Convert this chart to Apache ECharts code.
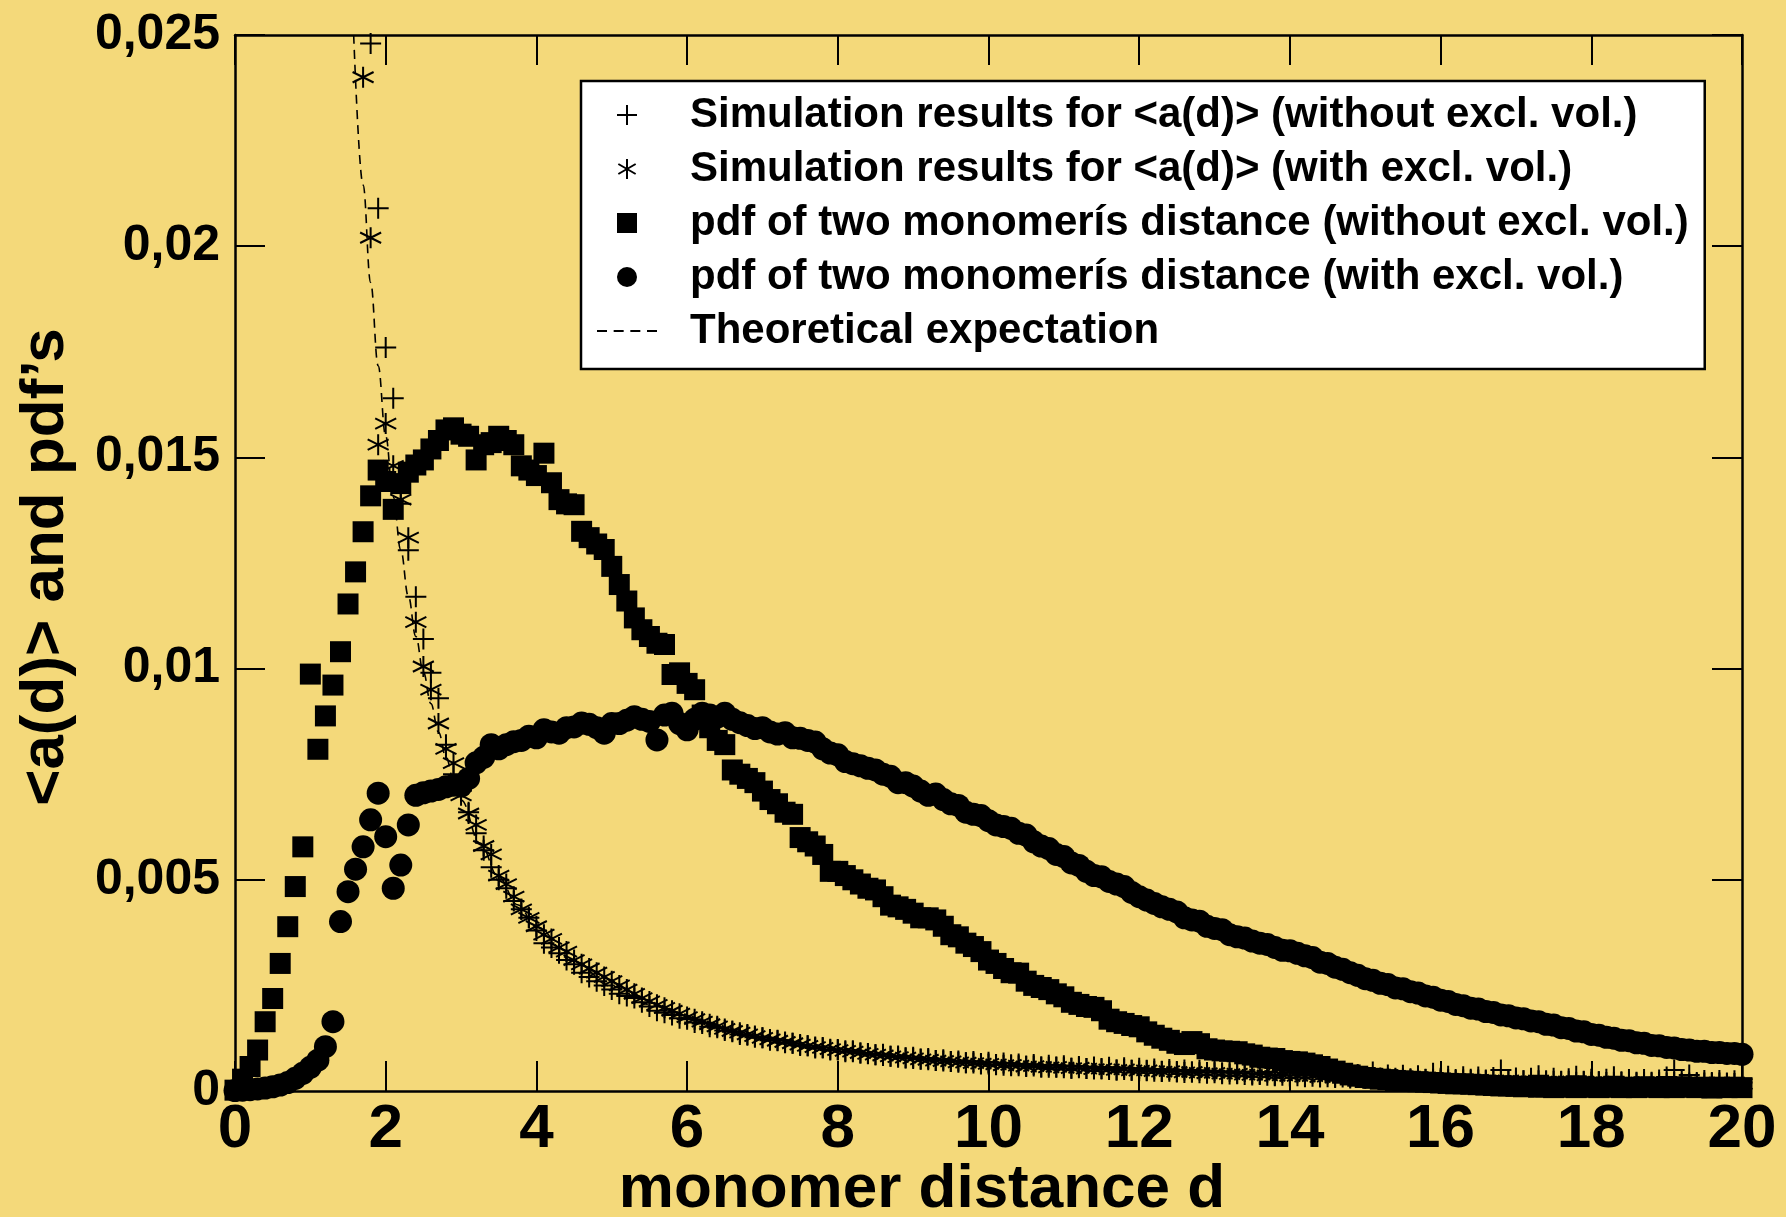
<!DOCTYPE html>
<html>
<head>
<meta charset="utf-8">
<title>monomer distance</title>
<script src="https://cdn.jsdelivr.net/npm/echarts@6.0.0/dist/echarts.min.js"></script>
<style>
  html, body { margin: 0; padding: 0; background: #f4d97a; }
  #chart { width: 1786px; height: 1217px; }
</style>
</head>
<body>
<div id="chart"></div>
<script>
// sampling of the simulation curves: every 0.1 in d
const D_STEP = 0.1;

// <a(d)> without excluded volume, d = 1.8 ... 20
const plusStart = 1.8;
const plusVals = [
  .0248,.0209,.0176,.0164,.0139,.0128,.0117,.0107,.0099,.0093,
  .0082,.0075,.0071,.0066,.0061,.0057,.0053,.005,.0048,.0045,
  .0043,.0041,.0038,.0035,.0034,.00326,.0031,.003,.0028,.0027,
  .0026,.0025,.0024,.0023,.00225,.0022,.0021,.002,.0019,.00185,
  .0018,.00172,.0017,.00162,.0016,.00152,.0015,.00143,.0014,.00134,
  .00132,.00127,.00126,.0012,.0012,.00114,.00113,.00108,.00107,.00102,
  .00103,.00097,.00098,.00093,.00095,.0009,.00089,.00086,.00087,.00082,
  .00083,.00078,.0008,.00076,.00077,.00072,.00074,.0007,.00071,.00067,
  .0007,.00064,.00068,.00062,.00066,.0006,.00064,.00059,.00063,.00057,
  .00061,.00056,.0006,.00054,.00058,.00053,.00057,.00052,.00056,.0005,
  .00055,.00049,.00054,.00048,.00052,.00047,.00051,.00046,.0005,.00045,
  .00049,.00044,.00048,.00043,.00047,.00042,.00046,.00041,.0004,.00045,
  .00038,.00044,.00037,.00043,.00036,.00042,.00035,.00041,.00034,.0004,
  .00033,.00039,.00032,.00045,.00031,.00038,.0003,.00037,.00029,.00036,
  .00028,.00042,.0003,.00035,.00027,.00034,.00028,.00033,.00026,.00032,
  .0005,.00025,.00031,.00024,.0003,.00036,.00024,.0003,.00023,.00029,
  .00035,.00023,.00028,.00022,.00028,.00034,.00022,.00027,.00021,.00027,
  .00021,.00026,.00033,.0005,.00026,.00038,.0002,.00025,.0002,.00025,
  .00019,.00024,.0002
];

// <a(d)> with excluded volume, d = 1.7 ... 20
const starStart = 1.7;
const starVals = [
  .024,.0202,.0153,.0158,.0148,.014,.0131,.0111,.01005,.0095,
  .0087,.0081,.00776,.007,.00657,.0063,.0058,.0056,.0051,.0049,
  .0046,.0043,.0041,.0039,.0037,.0036,.0034,.0033,.0031,.003,
  .0029,.0028,.0027,.0026,.0025,.0024,.0023,.0022,.00212,.00204,
  .00197,.0019,.00183,.00175,.0017,.00164,.00158,.00153,.00147,.00142,
  .00138,.00134,.0013,.00126,.00122,.00119,.00116,.00113,.0011,.00107,
  .00104,.00102,.00099,.00097,.00095,.00093,.0009,.00088,.00086,.00084,
  .00082,.0008,.00079,.00077,.00075,.00074,.00072,.00071,.0007,.00068,
  .00067,.00066,.00065,.00064,.00063,.00061,.00062,.0006,.00058,.00059,
  .00057,.00056,.00057,.00055,.00054,.00055,.00053,.00052,.00053,.00051,
  .0005,.00051,.00049,.00048,.00049,.00047,.00046,.00047,.00045,.00044,
  .00045,.00043,.00042,.00043,.00041,.0004,.00041,.00039,.00038,.00039,
  .00037,.00036,.00037,.00035,.00036,.00034,.00035,.00033,.00034,.00032,
  .00033,.00031,.00032,.0003,.00031,.00029,.0003,.00028,.00029,.00027,
  .00028,.00027,.00028,.00026,.00027,.00025,.00026,.00025,.00026,.00024,
  .00025,.00024,.00025,.00023,.00024,.00023,.00024,.00022,.00023,.00022,
  .00023,.00021,.00022,.00021,.00022,.0002,.00021,.0002,.00021,.00019,
  .0002,.00019,.0002,.00019,.0002,.00018,.00019,.00018,.00019,.00018,
  .00019,.00017,.00018,.00017
];

// pdf without excluded volume, d = 0 ... 20
const squareStart = 0;
const squareVals = [
  .00002,.00028,.00058,.00097,.00164,.00219,.00302,.00389,.00484,.00578,
  .00987,.00809,.00888,.00961,.0104,.01153,.01229,.01324,.01409,.0147,
  .01443,.01377,.01438,.01465,.01482,.01494,.0152,.0154,.01565,.0157,
  .01555,.0155,.01494,.0153,.01535,.0155,.0154,.0153,.0148,.0147,
  .01457,.0151,.0144,.014,.0139,.01388,.01325,.0131,.01295,.01282,
  .01242,.01199,.0116,.0112,.01092,.01076,.0106,.01057,.00986,.0099,
  .00965,.0095,.0089,.0086,.0083,.0082,.0076,.0075,.0074,.0073,
  .0071,.0069,.0068,.0066,.00655,.006,.0059,.0058,.0056,.0052,
  .0052,.0051,.005,.0049,.0048,.00476,.0046,.0044,.00436,.0043,
  .00421,.0041,.0041,.00405,.0039,.0037,.00365,.0035,.00342,.0033,
  .0031,.00302,.0029,.0028,.00279,.0026,.0025,.00245,.0024,.0023,
  .00223,.0021,.00205,.002,.00198,.0019,.0017,.00164,.0016,.00155,
  .00152,.0014,.00132,.00125,.0012,.00113,.0011,.00117,.00112,.001,
  .00097,.00095,.00094,.00093,.00088,.00085,.0008,.00078,.00077,.00072,
  .0007,.00069,.00066,.00062,.00058,.00052,.00047,.00042,.00038,.00035,
  .00032,.0003,.00028,.00027,.00025,.00024,.00023,.00022,.00021,.0002,
  .00019,.00018,.00017,.00017,.00016,.00015,.00014,.00013,.00012,.00012,
  .00011,.0001,.00011,.00009,.0001,.00008,.0001,.00009,.00008,.0001,
  .00009,.00008,.00009,.0001,.00008,.00009,.00008,.0001,.00009,.00008,
  .00009,.00008,.0001,.00009,.00008,.00009,.00007,.00009,.00008,.00009,
  .00008
];

// pdf with excluded volume, d = 0 ... 20
const circleStart = 0;
const circleVals = [
  .00001,.00002,.00003,.00005,.00007,.0001,.00014,.0002,.0003,.00042,
  .00056,.00073,.00105,.00164,.00401,.00472,.00525,.00578,.00642,.00705,
  .00602,.0048,.00535,.0063,.007,.00706,.0071,.00714,.0072,.00724,
  .00722,.0074,.00777,.0079,.0082,.0081,.0082,.00827,.0083,.0084,
  .00836,.00855,.0085,.00847,.0086,.00862,.00871,.00868,.0086,.00847,
  .0087,.0087,.00878,.00886,.0088,.00875,.00831,.0089,.00894,.0087,
  .00855,.0088,.00894,.0089,.00885,.00894,.0088,.00872,.00865,.00858,
  .0086,.0085,.00845,.00848,.00836,.00835,.0083,.00826,.0081,.008,
  .00796,.0078,.00775,.0077,.00764,.0076,.0075,.00745,.0073,.0073,
  .00722,.0071,.007,.00703,.0069,.0068,.00676,.0066,.00655,.00652,
  .0064,.0063,.00626,.00622,.0061,.00606,.0059,.0058,.00574,.0056,
  .00555,.0054,.00534,.0052,.0051,.00507,.00496,.0049,.00484,.0047,
  .0046,.00452,.00444,.00436,.0043,.00424,.0041,.00405,.00402,.0039,
  .00385,.00382,.0037,.00365,.00362,.00355,.0035,.00347,.0034,.00333,
  .00332,.00326,.0032,.00316,.00305,.00302,.00293,.00288,.0028,.00274,
  .00266,.00262,.00255,.00252,.00244,.00242,.00235,.00232,.00225,.00222,
  .00215,.00212,.00205,.00202,.00196,.00194,.00188,.00186,.0018,.00178,
  .00173,.00171,.00166,.00164,.00158,.00156,.0015,.00148,.00142,.0014,
  .00134,.00132,.00127,.00125,.0012,.00119,.00114,.00113,.00108,.00107,
  .00103,.00102,.00098,.00097,.00094,.00094,.00091,.00091,.00089,.00089,
  .00087
];

// theoretical expectation (dashed curve)
const theoryD = [1.575,1.7,1.8,1.9,2.0,2.1,2.2,2.3,2.4,2.5,2.6,2.7,2.8,2.9,3.0,
  3.25,3.5,3.75,4,4.5,5,5.5,6,7,8,9,10,11,12,13,14,16,18,20];
const theoryVal = [.025,.02145,.01914,.01717,.0155,.01406,.01281,.01172,.01076,.00992,
  .00917,.0085,.00791,.00737,.00689,.00587,.00506,.00441,.00388,.00306,.00248,.00205,
  .00172,.00127,.00097,.00077,.00062,.00051,.00043,.00037,.00032,.00024,.00019,.000155];

const seriesNames = [
  'Simulation results for <a(d)> (without excl. vol.)',
  'Simulation results for <a(d)> (with excl. vol.)',
  'pdf of two monomerís distance (without excl. vol.)',
  'pdf of two monomerís distance (with excl. vol.)',
  'Theoretical expectation'
];

const FONT = '"Liberation Sans", Arial, Helvetica, sans-serif';
const PLUS = 'path://M0,10L20,10M10,0L10,20';
const STAR = 'path://M10,0L10,20M1.34,5L18.66,15M1.34,15L18.66,5';
const SQUARE = 'path://M0,0L10,0L10,10L0,10Z';
const DASHES = 'path://M0,0L9,0L9,2L0,2Z M15,0L24,0L24,2L15,2Z M30,0L39,0L39,2L30,2Z M45,0L54,0L54,2L45,2Z';

function toPoints(start, values) {
  return values.map(function (v, i) {
    return [Math.round((start + i * D_STEP) * 10) / 10, v];
  });
}

const chart = echarts.init(document.getElementById('chart'));

const axisCommon = {
  type: 'value',
  axisLine: { show: true, onZero: false, lineStyle: { color: '#000', width: 2.5 } },
  axisTick: { show: true, inside: true, length: 30, lineStyle: { color: '#000', width: 2 } },
  splitLine: { show: false }
};

const option = {
  backgroundColor: '#f4d97a',
  animation: false,
  textStyle: { fontFamily: FONT },
  grid: { left: 235, right: 44, top: 35, bottom: 126 },
  xAxis: [
    Object.assign({}, axisCommon, {
      min: 0, max: 20, interval: 2, position: 'bottom',
      axisLabel: { color: '#000', fontSize: 62, fontWeight: 'bold', fontFamily: FONT, margin: 8 }
    }),
    Object.assign({}, axisCommon, {
      min: 0, max: 20, interval: 2, position: 'top',
      axisLabel: { show: false }
    })
  ],
  yAxis: [
    Object.assign({}, axisCommon, {
      min: 0, max: 0.025, interval: 0.005, position: 'left',
      axisLabel: {
        color: '#000', fontSize: 50, fontWeight: 'bold', fontFamily: FONT, margin: 15,
        formatter: function (v) { return String(+v.toFixed(3)).replace('.', ','); }
      }
    }),
    Object.assign({}, axisCommon, {
      min: 0, max: 0.025, interval: 0.005, position: 'right',
      axisLabel: { show: false }
    })
  ],
  legend: {
    orient: 'vertical',
    left: 581,
    top: 81,
    padding: [12, 16, 16, 16],
    itemWidth: 60,
    itemHeight: 20,
    itemGap: 10,
    backgroundColor: '#fff',
    borderColor: '#000',
    borderWidth: 2.5,
    selectedMode: false,
    textStyle: {
      fontFamily: FONT, fontSize: 42, fontWeight: 'bold', color: '#000',
      lineHeight: 44, padding: [0, 0, 0, 28]
    },
    data: [
      { name: seriesNames[0], icon: PLUS, itemStyle: { color: 'rgba(0,0,0,0)', borderColor: '#000', borderWidth: 2, opacity: 1 } },
      { name: seriesNames[1], icon: STAR, itemStyle: { color: 'rgba(0,0,0,0)', borderColor: '#000', borderWidth: 2, opacity: 1 } },
      { name: seriesNames[2], icon: SQUARE, itemStyle: { color: '#000', borderWidth: 0, opacity: 1 } },
      { name: seriesNames[3], icon: 'circle', itemStyle: { color: '#000', borderWidth: 0, opacity: 1 } },
      { name: seriesNames[4], icon: DASHES, itemStyle: { color: '#000', borderWidth: 0, opacity: 1 } }
    ]
  },
  graphic: [
    {
      type: 'text', x: 922, y: 1190,
      style: { text: 'monomer distance d', font: 'bold 62px ' + FONT, fill: '#000', align: 'center', verticalAlign: 'middle' }
    },
    {
      type: 'text', x: 46, y: 567, rotation: Math.PI / 2,
      style: { text: '<a(d)> and pdf’s', font: 'bold 62px ' + FONT, fill: '#000', align: 'center', verticalAlign: 'middle' }
    }
  ],
  series: [
    {
      name: seriesNames[3], type: 'scatter', symbol: 'circle', symbolSize: 23,
      itemStyle: { color: '#000', opacity: 1 }, data: toPoints(circleStart, circleVals), z: 2,
      emphasis: { disabled: true }
    },
    {
      name: seriesNames[2], type: 'scatter', symbol: 'rect', symbolSize: 21,
      itemStyle: { color: '#000', opacity: 1 }, data: toPoints(squareStart, squareVals), z: 3,
      emphasis: { disabled: true }
    },
    {
      name: seriesNames[0], type: 'scatter', symbol: PLUS, symbolSize: 21,
      itemStyle: { color: 'rgba(0,0,0,0)', borderColor: '#000', borderWidth: 2, opacity: 1 },
      data: toPoints(plusStart, plusVals), z: 4, emphasis: { disabled: true }
    },
    {
      name: seriesNames[1], type: 'scatter', symbol: STAR, symbolSize: 21,
      itemStyle: { color: 'rgba(0,0,0,0)', borderColor: '#000', borderWidth: 2, opacity: 1 },
      data: toPoints(starStart, starVals), z: 4, emphasis: { disabled: true }
    },
    {
      name: seriesNames[4], type: 'line', showSymbol: false, symbol: 'none',
      smooth: 0.4, smoothMonotone: 'x',
      itemStyle: { color: '#000' },
      lineStyle: { color: '#000', width: 1.6, type: [9, 6] },
      data: theoryD.map(function (d, i) { return [d, theoryVal[i]]; }),
      z: 5, emphasis: { disabled: true }
    }
  ]
};

chart.setOption(option);
</script>
</body>
</html>
